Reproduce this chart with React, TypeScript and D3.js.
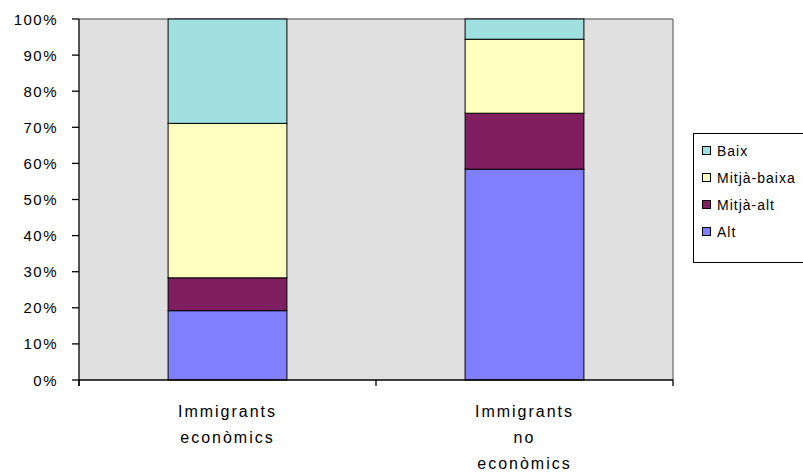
import React from "react";
import * as d3 from "d3";

const categories: string[][] = [["Immigrants", "econòmics"], ["Immigrants", "no", "econòmics"]];
const seriesNames = ["Alt", "Mitjà-alt", "Mitjà-baixa", "Baix"];
const alt = [19.2, 58.4];
const mitjaAlt = [9.1, 15.5];
const mitjaBaixa = [42.8, 20.5];
const baix = [28.9, 5.6];
const seriesColors = ["#8080FF", "#7F1F5F", "#FFFFC0", "#A0E0E0"];
const yTicks = [0, 10, 20, 30, 40, 50, 60, 70, 80, 90, 100];

const W = 803, H = 472;
const plot = { left: 79, right: 673, top: 19, bottom: 380 };
const FONT = "'Liberation Sans', Arial, sans-serif";

export default function App() {
  const seriesValues = [alt, mitjaAlt, mitjaBaixa, baix];
  const keys = categories.map((_, i) => String(i));
  const x = d3.scaleBand<string>().domain(keys).range([plot.left, plot.right]).paddingInner(0.6).paddingOuter(0.3);
  const y = d3.scaleLinear().domain([0, 100]).range([plot.bottom, plot.top]);
  const rows = keys.map((k, i) => {
    const r: any = { key: k };
    seriesNames.forEach((s, j) => (r[s] = seriesValues[j][i]));
    return r;
  });
  const stacked = d3.stack().keys(seriesNames)(rows);
  const step = x.step();
  const catTicks = d3.range(categories.length + 1).map((i) => plot.left + i * step);

  const legendItems = seriesNames.map((s, i) => ({ s, c: seriesColors[i] })).reverse();

  return (
    <svg width={W} height={H} style={{ position: "absolute", left: 0, top: 0, background: "#fff" }}>
      <rect x={plot.left} y={plot.top} width={plot.right - plot.left} height={plot.bottom - plot.top} fill="#E0E0E0" />
      <line x1={plot.left} x2={plot.right} y1={plot.top} y2={plot.top} stroke="#808080" strokeWidth={1.5} />
      <line x1={plot.right} x2={plot.right} y1={plot.top} y2={plot.bottom} stroke="#808080" strokeWidth={1.5} />
      {stacked.map((ser, si) => (
        <g key={ser.key}>
          {ser.map((d, ci) => (
            <rect
              key={ci}
              x={x(keys[ci])}
              width={x.bandwidth()}
              y={y(d[1])}
              height={y(d[0]) - y(d[1])}
              fill={seriesColors[si]}
              stroke="#000"
              strokeWidth={1}
            />
          ))}
        </g>
      ))}
      {/* y axis */}
      <line x1={plot.left} x2={plot.left} y1={plot.top} y2={plot.bottom + 6} stroke="#000" strokeWidth={1.3} />
      {yTicks.map((t) => (
        <g key={t}>
          <line x1={plot.left - 7} x2={plot.left} y1={y(t)} y2={y(t)} stroke="#000" strokeWidth={1.3} />
          <text x={58} y={y(t) + 5.5} textAnchor="end" fontFamily={FONT} fontSize={15} letterSpacing={1.5} fill="#000">
            {t + "%"}
          </text>
        </g>
      ))}
      {/* x axis */}
      <line x1={plot.left} x2={plot.right} y1={plot.bottom} y2={plot.bottom} stroke="#000" strokeWidth={1.3} />
      {catTicks.map((t, i) => (
        <line key={i} x1={t} x2={t} y1={plot.bottom} y2={plot.bottom + 6} stroke="#000" strokeWidth={1.3} />
      ))}
      {categories.map((lines, i) => (
        <text key={i} textAnchor="middle" fontFamily={FONT} fontSize={16} letterSpacing={2} fill="#000">
          {lines.map((l, j) => (
            <tspan key={j} x={(x(keys[i]) as number) + x.bandwidth() / 2} y={417 + j * 26}>
              {l}
            </tspan>
          ))}
        </text>
      ))}
      {/* legend */}
      <rect x={693.5} y={133.5} width={130} height={129} fill="#fff" stroke="#000" strokeWidth={1} />
      {legendItems.map((it, i) => (
        <g key={it.s}>
          <rect x={702.5} y={146.5 + i * 27} width={8} height={8} fill={it.c} stroke="#000" strokeWidth={1} />
          <text x={717} y={155.5 + i * 27} fontFamily={FONT} fontSize={14} letterSpacing={1} fill="#000">
            {it.s}
          </text>
        </g>
      ))}
    </svg>
  );
}
